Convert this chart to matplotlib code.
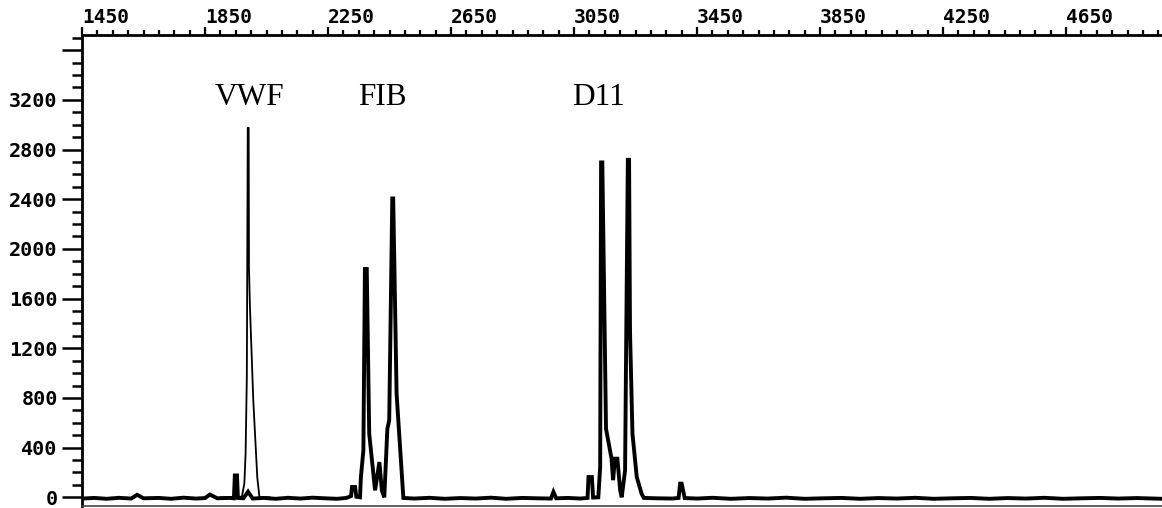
import matplotlib
matplotlib.use("Agg")
import matplotlib.pyplot as plt
from matplotlib.ticker import MultipleLocator, FixedLocator
from matplotlib.transforms import ScaledTranslation

# thin trace (VWF peak), size in bp vs. fluorescence
vwf_x = [1900, 1970, 1978, 1982, 1986, 1989, 1992, 1993, 1996, 2007, 2020, 2027, 2060]
vwf_y = [0, 5, 113, 354, 965, 2975, 2975, 1850, 1543, 780, 160, 0, 0]

# thick trace: baseline + FIB + D11 peaks
main_x = [1450, 1490, 1530, 1570, 1610, 1629, 1650, 1700, 1740, 1780, 1820, 1850, 1866, 1890,
          1930, 1944, 1947, 1954, 1957, 1975, 1990, 2005, 2040, 2080, 2120, 2160, 2200, 2240,
          2280, 2310, 2325, 2328, 2338, 2342, 2354, 2357, 2365, 2370, 2376, 2384, 2403, 2417,
          2425, 2433, 2443, 2449, 2459, 2462, 2473, 2495, 2530, 2580, 2630, 2680, 2730, 2780,
          2830, 2880, 2930, 2975, 2983, 2992, 3030, 3070, 3094, 3097, 3108, 3112, 3129, 3135,
          3138, 3142, 3154, 3172, 3177, 3183, 3191, 3200, 3205, 3216, 3219, 3225, 3229, 3232,
          3240, 3254, 3270, 3277, 3320, 3370, 3390, 3395, 3400, 3410, 3450, 3500, 3560, 3620,
          3680, 3740, 3800, 3860, 3920, 3980, 4040, 4100, 4160, 4220, 4280, 4340, 4400, 4460,
          4520, 4580, 4640, 4700, 4760, 4820, 4880, 4962]
main_y = [-10, -5, -12, -4, -10, 20, -8, -5, -12, -3, -10, -6, 22, -8,
          -5, -8, 176, 176, -5, -8, 45, -10, -5, -12, -4, -10, -3, -8,
          -12, -5, 10, 83, 83, 5, 0, 163, 378, 1838, 1838, 512, 56, 284,
          56, 0, 552, 619, 2406, 2406, 833, -5, -10, -4, -12, -6, -10, -3,
          -12, -5, -8, -10, 43, -8, -5, -10, -5, 163, 163, -2, 0, 244,
          2696, 2696, 552, 311, 138, 311, 311, 56, 0, 217, 1075, 2717, 2717, 1342,
          512, 163, 27, -5, -8, -10, -5, 110, 110, -6, -10, -4, -12, -6,
          -10, -3, -12, -8, -5, -12, -6, -10, -4, -12, -8, -5, -12, -6,
          -10, -4, -12, -8, -5, -10, -6, -12]

x_major = [1450, 1850, 2250, 2650, 3050, 3450, 3850, 4250, 4650]
y_major = [0, 400, 800, 1200, 1600, 2000, 2400, 2800, 3200, 3600]
y_labels = ["0", "400", "800", "1200", "1600", "2000", "2400", "2800", "3200", ""]

peak_labels = ["VWF", "FIB", "D11"]
label_x = [1996, 2426, 3131]
label_y = [3160, 3160, 3160]

fig = plt.figure(figsize=(11.62, 5.08), dpi=100)
ax = fig.add_axes([82 / 1162, 2 / 508, 1080 / 1162, 471 / 508])

ax.plot(main_x, main_y, color="black", lw=2.8, solid_joinstyle="miter")
ax.plot(vwf_x, vwf_y, color="black", lw=1.3)

for t, x, y in zip(peak_labels, label_x, label_y):
    ax.text(x, y, t, ha="center", va="baseline", fontsize=22.5,
            family="Liberation Serif")

ax.set_xlim(1450, 4962)
ax.set_ylim(-70, 3722)

ax.xaxis.tick_top()
ax.xaxis.set_major_locator(FixedLocator(x_major))
ax.xaxis.set_minor_locator(MultipleLocator(50))
ax.set_xticks(x_major)
ax.set_xticklabels([str(v) for v in x_major])
ax.yaxis.set_major_locator(FixedLocator(y_major))
ax.yaxis.set_minor_locator(MultipleLocator(100))
ax.set_yticks(y_major)
ax.set_yticklabels(y_labels)

tick_font = dict(family="DejaVu Sans Mono", weight="bold")
for lab in ax.get_xticklabels():
    lab.set(ha="left", fontsize=14, **tick_font)
shift_up = ScaledTranslation(0, 3 / 100, fig.dpi_scale_trans)
for lab in ax.get_yticklabels():
    lab.set(fontsize=14.5, **tick_font)
    lab.set_transform(lab.get_transform() + shift_up)

ax.tick_params(axis="x", which="major", length=6, width=1.6, pad=0)
ax.tick_params(axis="x", which="minor", length=3.5, width=1.6)
ax.tick_params(axis="y", which="major", length=14.5, width=1.8, pad=3)
ax.tick_params(axis="y", which="minor", length=7, width=1.8)

ax.spines["right"].set_visible(False)
ax.spines["top"].set_linewidth(2)
ax.spines["left"].set_linewidth(2)
ax.spines["bottom"].set_linewidth(1.2)
ax.spines["bottom"].set_color("#444444")

fig.savefig("out.png", dpi=100)
